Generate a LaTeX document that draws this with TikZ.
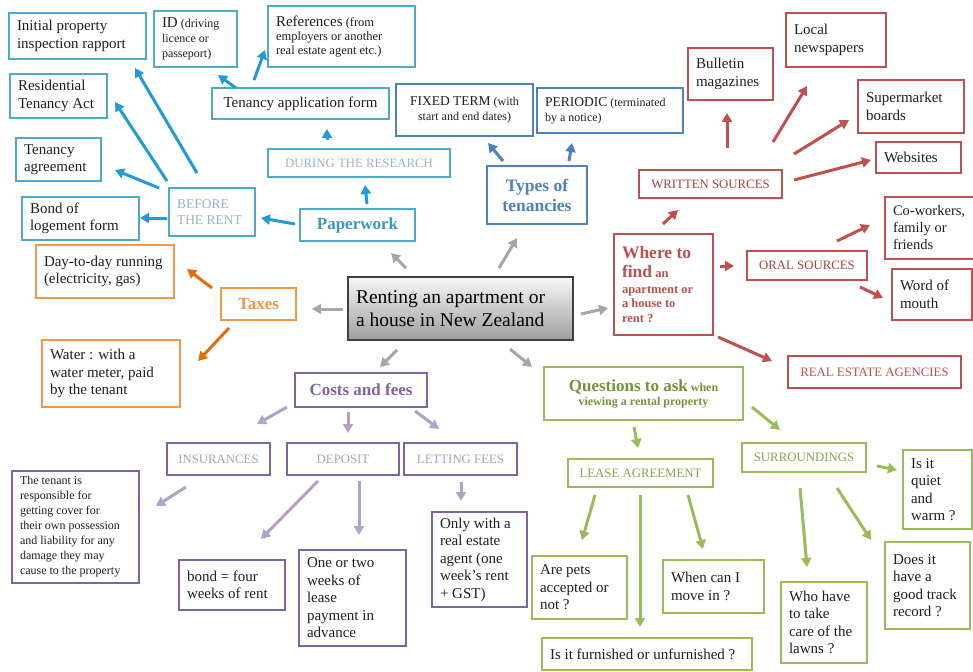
\documentclass[tikz,border=0pt]{standalone}
\usepackage{fontspec}
\setmainfont{Liberation Serif}
\usetikzlibrary{arrows.meta}
\definecolor{cteal}{HTML}{4BACC6}
\definecolor{cteala}{HTML}{1F9BD7}
\definecolor{cpaper}{HTML}{3F97BF}
\definecolor{cpale}{HTML}{9DB2C6}
\definecolor{cblue}{HTML}{4F81BD}
\definecolor{cred}{HTML}{C0504D}
\definecolor{credt}{HTML}{A8403E}
\definecolor{corange}{HTML}{F79646}
\definecolor{corangea}{HTML}{E46C0A}
\definecolor{cpurple}{HTML}{8064A2}
\definecolor{cpurplea}{HTML}{B3A2C7}
\definecolor{cpalep}{HTML}{A9A2B6}
\definecolor{cgreen}{HTML}{9BBB59}
\definecolor{cgreent}{HTML}{76923C}
\definecolor{cgreenl}{HTML}{86A64A}
\definecolor{cgray}{HTML}{A6A6A6}
\begin{document}
\begin{tikzpicture}[x=1pt,y=-1pt,
  box/.style={draw, line width=2.3pt, anchor=north west, outer sep=0pt, inner xsep=8pt, inner ysep=2pt, align=flush left, font=\fontsize{15}{17.5}\selectfont, text=black!88},
  sz/.code 2 args={\pgfmathsetmacro\bxw{#1-16}\edef\bxtmp{\noexpand\pgfkeysalso{text width=\bxw pt, minimum height=#2pt}}\bxtmp},
  tbox/.style={box, draw=cteal},
  bbox/.style={box, draw=cblue},
  rbox/.style={box, draw=cred},
  obox/.style={box, draw=corange},
  pbox/.style={box, draw=cpurple},
  gbox/.style={box, draw=cgreen},
  caps/.style={align=flush center, font=\fontsize{12.8}{15}\selectfont},
  head/.style={align=flush center, font=\bfseries\fontsize{17}{19}\selectfont},
  arr/.style={line width=3pt, -{Triangle[length=9pt,width=10pt]}},
  tarr/.style={arr, draw=cteala, fill=cteala},
  barr/.style={arr, draw=cblue, fill=cblue},
  garr/.style={arr, draw=cgray, fill=cgray},
  oarr/.style={arr, draw=corangea, fill=corangea},
  rarr/.style={arr, draw=cred, fill=cred},
  parr/.style={arr, draw=cpurplea, fill=cpurplea},
  grarr/.style={arr, draw=cgreen, fill=cgreen}]
\useasboundingbox (0,0) rectangle (973,671);
\fill[white] (0,0) rectangle (973,671);

% ---- Paperwork (teal)
\node[tbox, sz={137}{46}] (init) at (9,13) {Initial property\\inspection rapport};
\node[tbox, sz={83}{56}, font=\fontsize{12}{15}\selectfont] (id) at (154,11) {{\fontsize{15}{15}\selectfont ID} (driving\\licence or\\passeport)};
\node[tbox, sz={147}{61}, font=\fontsize{12.5}{14}\selectfont] (refs) at (268,6) {{\fontsize{15}{15}\selectfont References} (from\\employers or another\\real estate agent etc.)};
\node[tbox, sz={97}{44}] (resid) at (10,74) {Residential\\Tenancy Act};
\node[tbox, align=flush center, sz={177}{31}] (tapp) at (212,88) {Tenancy application form};
\node[tbox, sz={85}{43}] (tagr) at (16,138) {Tenancy\\agreement};
\node[tbox, caps, sz={182}{28}, text=cpale] (during) at (268,149) {DURING THE RESEARCH};
\node[tbox, sz={86}{48}, font=\fontsize{13.5}{16}\selectfont, text=cpale] (before) at (169,188) {BEFORE\\THE RENT};
\node[tbox, sz={117}{43}] (bond) at (22,197) {Bond of\\logement form};
\node[tbox, head, sz={115}{32}, text=cpaper] (paper) at (300,209) {Paperwork};

% ---- Types of tenancies (blue)
\node[bbox, align=flush center, sz={137}{52}, font=\fontsize{12}{15}\selectfont] (fixed) at (396,84) {{\fontsize{13.5}{15}\selectfont FIXED TERM} (with\\start and end dates)};
\node[bbox, sz={146}{45}, font=\fontsize{12}{15}\selectfont] (periodic) at (537,88) {{\fontsize{13.5}{15}\selectfont PERIODIC} (terminated\\by a notice)};
\node[bbox, head, sz={100}{58}, font=\bfseries\fontsize{17.5}{20}\selectfont, text=cblue] (types) at (487,166) {Types of\\tenancies};

% ---- Where to find (red)
\node[rbox, sz={85}{52}] (bull) at (688,48) {Bulletin\\magazines};
\node[rbox, sz={100}{54}] (local) at (786,13) {Local\\newspapers};
\node[rbox, sz={106}{53}] (super) at (858,80) {Supermarket\\boards};
\node[rbox, sz={85}{31}] (web) at (876,142) {Websites};
\node[rbox, caps, sz={143}{28}, text=credt] (written) at (639,170) {WRITTEN SOURCES};
\node[rbox, sz={92}{62}, font=\fontsize{14.5}{17}\selectfont] (cowork) at (885,197) {Co-workers,\\family or\\friends};
\node[rbox, caps, sz={120}{29}, text=credt] (oral) at (747,251) {ORAL SOURCES};
\node[rbox, sz={80}{51}] (word) at (892,269) {Word of\\mouth};
\node[rbox, sz={99}{101}, font=\bfseries\fontsize{12.5}{14.5}\selectfont, text=cred] (where) at (614,234) {{\fontsize{17.5}{19}\selectfont Where to}\\[5pt]{\fontsize{17.5}{19}\selectfont find} an\\[1pt]apartment or\\a house to\\rent ?};
\node[rbox, caps, sz={173}{32}, text=cred] (real) at (788,356) {REAL ESTATE AGENCIES};

% ---- Taxes (orange)
\node[obox, sz={138}{53}] (day) at (36,245) {Day-to-day running\\(electricity, gas)};
\node[obox, head, sz={75}{32}, text=corange] (taxes) at (221,288) {Taxes};
\node[obox, sz={138}{67}] (water) at (42,340) {Water : with a\\water meter, paid\\by the tenant};

% ---- centre
\node[box, draw=black!75, line width=1.2pt, top color=black!3, bottom color=black!38, sz={225}{63}, font=\fontsize{19.5}{23.5}\selectfont, text=black] (main) at (348,277) {Renting an apartment or\\a house in New Zealand};

% ---- Costs and fees (purple)
\node[pbox, head, sz={132}{34}, text=cpurple] (costs) at (295,373) {Costs and fees};
\node[pbox, caps, sz={103}{32}, text=cpalep] (ins) at (167,443) {INSURANCES};
\node[pbox, caps, sz={112}{32}, text=cpalep] (dep) at (287,443) {DEPOSIT};
\node[pbox, caps, sz={113}{32}, text=cpalep] (let) at (404,443) {LETTING FEES};
\node[pbox, sz={127}{112}, font=\fontsize{12}{15}\selectfont] (tenant) at (12,471) {The tenant is\\responsible for\\getting cover for\\their own possession\\and liability for any\\damage they may\\cause to the property};
\node[pbox, sz={106}{50}] (bondr) at (179,560) {bond = four\\weeks of rent};
\node[pbox, sz={107}{96}] (onetwo) at (299,550) {One or two\\weeks of\\lease\\payment in\\advance};
\node[pbox, sz={95}{95}] (only) at (432,512) {Only with a\\real estate\\agent (one\\week's rent\\+ GST)};

% ---- Questions (green)
\node[gbox, align=flush center, sz={199}{53}, font=\bfseries\fontsize{12}{14}\selectfont, text=cgreent] (quest) at (544,367) {{\fontsize{17}{18}\selectfont Questions to ask} when\\viewing a rental property};
\node[gbox, caps, sz={145}{28}, text=cgreenl] (lease) at (568,459) {LEASE AGREEMENT};
\node[gbox, caps, sz={124}{29}, text=cgreenl] (surr) at (742,443) {SURROUNDINGS};
\node[gbox, sz={69}{79}] (quiet) at (903,450) {Is it\\quiet\\and\\warm ?};
\node[gbox, sz={95}{63}] (pets) at (532,556) {Are pets\\accepted or\\not ?};
\node[gbox, sz={101}{53}] (when) at (663,560) {When can I\\move in ?};
\node[gbox, sz={210}{32}] (furn) at (542,638) {Is it furnished or unfurnished ?};
\node[gbox, sz={86}{81}] (who) at (781,582) {Who have\\to take\\care of the\\lawns ?};
\node[gbox, sz={85}{87}] (does) at (885,542) {Does it\\have a\\good track\\record ?};

% ---- arrows: paperwork
\draw[tarr] ([shift={(28,-15)}]before.north west) -- ([shift={(126,55)}]init.north west);
\draw[tarr] ([shift={(-2,-7)}]before.north west) -- ([shift={(105,28)}]resid.north west);
\draw[tarr] ([shift={(-10,0)}]before.north west) -- ([shift={(99,32)}]tagr.north west);
\draw[tarr] ([shift={(-2,30)}]before.north west) -- ([shift={(118,21)}]bond.north west);
\draw[tarr] ([shift={(-5,15)}]paper.north west) -- ([shift={(92,30)}]before.north west);
\draw[tarr] ([shift={(67,-5)}]paper.north west) -- ([shift={(97,36)}]during.north west);
\draw[tarr] ([shift={(59,-9)}]during.north west) -- ([shift={(115,41)}]tapp.north west);
\draw[tarr] ([shift={(24,0)}]tapp.north west) -- ([shift={(64,64)}]id.north west);
\draw[tarr] ([shift={(42,-8)}]tapp.north west) -- ([shift={(-3,44)}]refs.north west);
% types
\draw[barr] ([shift={(16,-5)}]types.north west) -- ([shift={(92,59)}]fixed.north west);
\draw[barr] ([shift={(82,-5)}]types.north west) -- ([shift={(35,55)}]periodic.north west);
% centre
\draw[garr] ([shift={(58,-9)}]main.north west) -- ([shift={(91,44)}]paper.north west);
\draw[garr] ([shift={(151,-9)}]main.north west) -- ([shift={(30,72)}]types.north west);
\draw[garr] ([shift={(233,37)}]main.north west) -- ([shift={(-6,74)}]where.north west);
\draw[garr] ([shift={(-5,32)}]main.north west) -- ([shift={(91,21)}]taxes.north west);
\draw[garr] ([shift={(49,73)}]main.north west) -- ([shift={(85,-6)}]costs.north west);
\draw[garr] ([shift={(162,72)}]main.north west) -- ([shift={(-12,0)}]quest.north west);
% taxes
\draw[oarr] ([shift={(-9,0)}]taxes.north west) -- ([shift={(151,24)}]day.north west);
\draw[oarr] ([shift={(8,40)}]taxes.north west) -- ([shift={(156,21)}]water.north west);
% where
\draw[rarr] ([shift={(49,-10)}]where.north west) -- ([shift={(39,40)}]written.north west);
\draw[rarr] ([shift={(88,-22)}]written.north west) -- ([shift={(39,65)}]bull.north west);
\draw[rarr] ([shift={(134,-28)}]written.north west) -- ([shift={(21,73)}]local.north west);
\draw[rarr] ([shift={(155,-16)}]written.north west) -- ([shift={(-9,40)}]super.north west);
\draw[rarr] ([shift={(155,10)}]written.north west) -- ([shift={(-5,18)}]web.north west);
\draw[rarr] ([shift={(106,32)}]where.north west) -- ([shift={(-13,15)}]oral.north west);
\draw[rarr] ([shift={(90,-10)}]oral.north west) -- ([shift={(-15,28)}]cowork.north west);
\draw[rarr] ([shift={(113,36)}]oral.north west) -- ([shift={(-9,29)}]word.north west);
\draw[rarr] ([shift={(104,103)}]where.north west) -- ([shift={(-16,5)}]real.north west);
% costs
\draw[parr] ([shift={(-8,34)}]costs.north west) -- ([shift={(90,-19)}]ins.north west);
\draw[parr] ([shift={(53,39)}]costs.north west) -- ([shift={(61,-10)}]dep.north west);
\draw[parr] ([shift={(120,38)}]costs.north west) -- ([shift={(35,-14)}]let.north west);
\draw[parr] ([shift={(19,44)}]ins.north west) -- ([shift={(144,35)}]tenant.north west);
\draw[parr] ([shift={(31,38)}]dep.north west) -- ([shift={(82,-21)}]bondr.north west);
\draw[parr] ([shift={(72,38)}]dep.north west) -- ([shift={(60,-15)}]onetwo.north west);
\draw[parr] ([shift={(57,39)}]let.north west) -- ([shift={(29,-11)}]only.north west);
% questions
\draw[grarr] ([shift={(90,60)}]quest.north west) -- ([shift={(70,-11)}]lease.north west);
\draw[grarr] ([shift={(208,40)}]quest.north west) -- ([shift={(38,-13)}]surr.north west);
\draw[grarr] ([shift={(27,36)}]lease.north west) -- ([shift={(50,-16)}]pets.north west);
\draw[grarr] ([shift={(72,36)}]lease.north west) -- ([shift={(98,-11)}]furn.north west);
\draw[grarr] ([shift={(120,36)}]lease.north west) -- ([shift={(40,-11)}]when.north west);
\draw[grarr] ([shift={(135,23)}]surr.north west) -- ([shift={(-6,20)}]quiet.north west);
\draw[grarr] ([shift={(58,45)}]surr.north west) -- ([shift={(26,-15)}]who.north west);
\draw[grarr] ([shift={(95,45)}]surr.north west) -- ([shift={(-14,-2)}]does.north west);
\end{tikzpicture}
\end{document}
